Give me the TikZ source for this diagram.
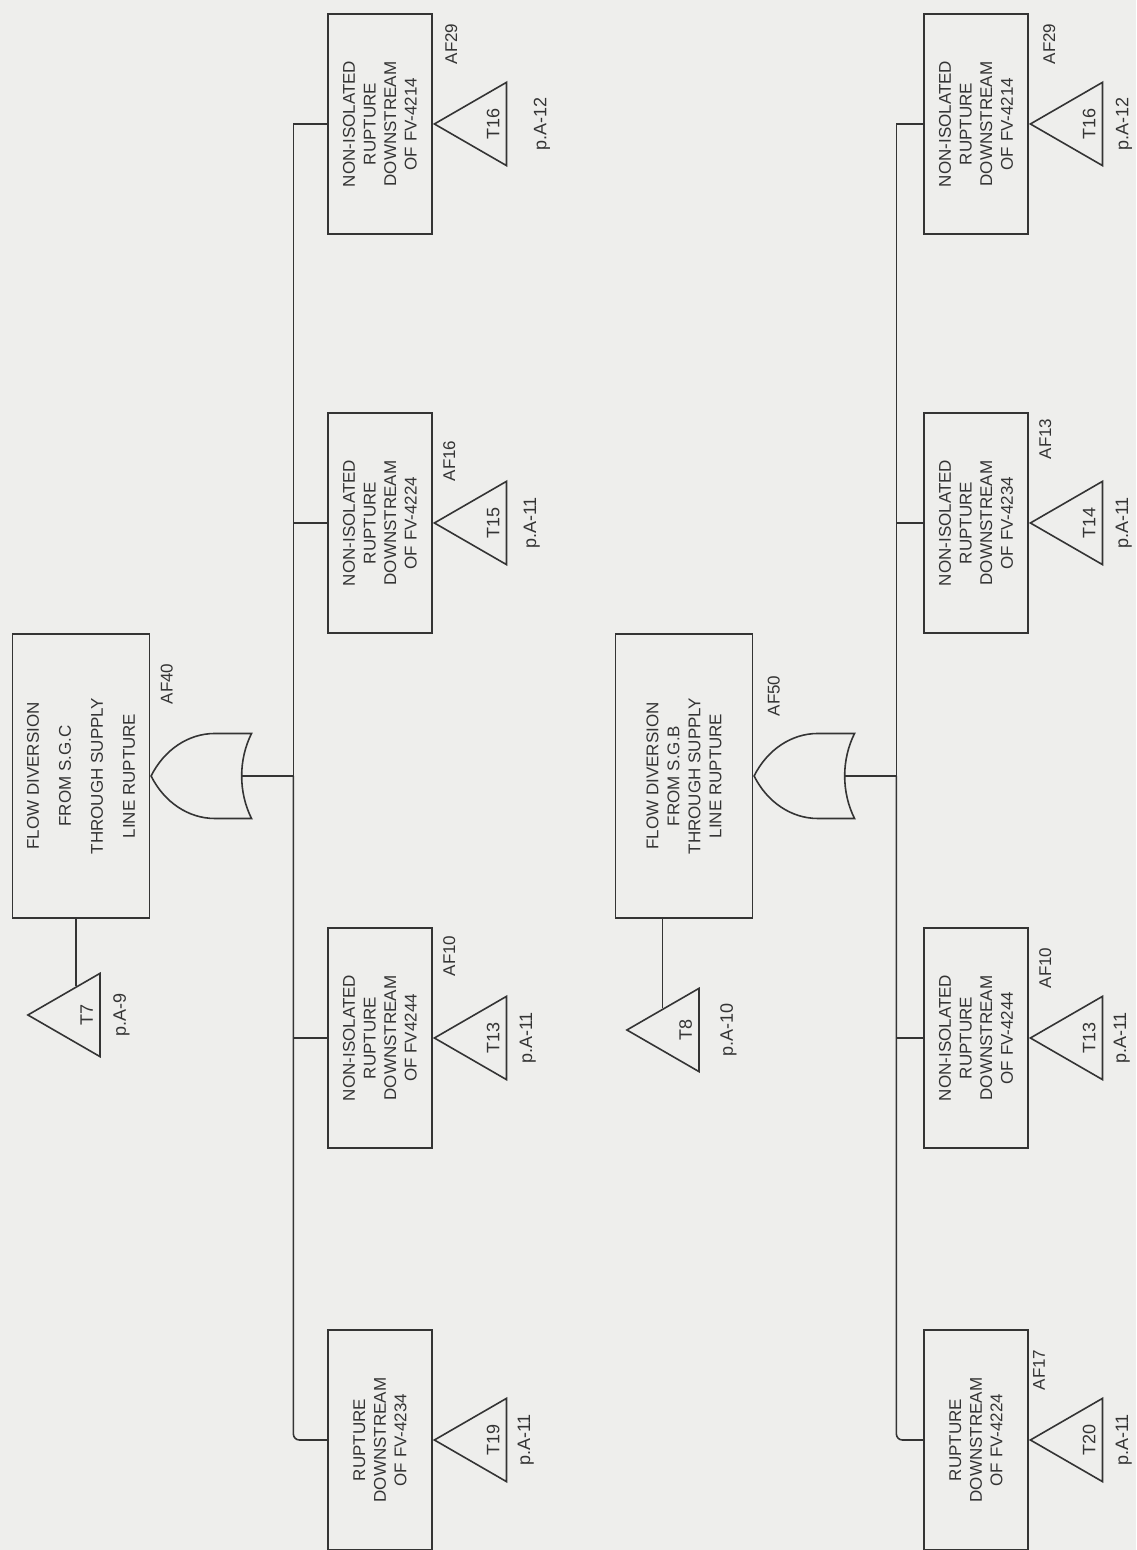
\documentclass[tikz,border=0pt]{standalone}
\usepackage{fontspec}
\setmainfont{Liberation Sans}
\usetikzlibrary{positioning,shapes.geometric,shapes.gates.logic.US}
\definecolor{treeInk}{HTML}{343434}
\definecolor{treePaper}{HTML}{EEEEEC}
\tikzset{
  event/.style={rectangle, draw=treeInk, line width=0.8pt, align=center, minimum width=110pt, minimum height=52pt, inner sep=2pt, text=treeInk, font=\fontsize{8.5}{10.3}\selectfont},
  topevent/.style={event, minimum width=142pt, minimum height=68.5pt, font=\fontsize{8.5}{10.5}\selectfont},
  orgate/.style={shape=or gate US, draw=treeInk, line width=0.8pt, logic gate inputs=nnn, rotate=90, xscale=0.865, anchor=output, minimum height=42.5pt, inner sep=0pt},
  xfer/.style={regular polygon, regular polygon sides=3, draw=treeInk, line width=0.8pt, minimum size=48pt, inner sep=0pt, text height=17pt, text depth=0pt, text=treeInk, font=\fontsize{9}{10}\selectfont},
  pglabel/.style={inner sep=1pt, text=treeInk, font=\fontsize{9}{10}\selectfont},
  evid/.style={inner sep=1pt, text=treeInk, font=\fontsize{8.5}{10}\selectfont},
  link/.style={draw=treeInk, line width=0.8pt}
}
\begin{document}
\begin{tikzpicture}[x=0.5pt, y=0.5pt, rotate=90, transform shape]
  \path[fill=treePaper, use as bounding box] (0,0) rectangle (1550,1136);

  % AF40 tree
  \node[topevent, font=\fontsize{8.5}{16}\selectfont] (top1) at (774,1055) {FLOW DIVERSION\\FROM S.G.C\\THROUGH SUPPLY\\LINE RUPTURE};
  \node[orgate] (gate1) at (top1.south) {};
  \node[evid, below left=4pt and 14pt of top1.south east] (af40) {AF40};
  \node[xfer] (t7) at (535,1060) {T7};
  \node[pglabel, below=5pt of t7] (pa9) {p.A-9};

  \node[event] (c1) at (1426,756) {NON-ISOLATED\\RUPTURE\\DOWNSTREAM\\OF FV-4214};
  \node[event] (c2) at (1027,756) {NON-ISOLATED\\RUPTURE\\DOWNSTREAM\\OF FV-4224};
  \node[event] (c3) at (512,756) {NON-ISOLATED\\RUPTURE\\DOWNSTREAM\\OF FV4244};
  \node[event] (c4) at (110,756) {RUPTURE\\DOWNSTREAM\\OF FV-4234};
  \node[evid, below left=5pt and 4pt of c1.south east] (af29a) {AF29};
  \node[evid, below left=4pt and 13pt of c2.south east] (af16) {AF16};
  \node[evid, below left=4pt and 3pt of c3.south east] (af10a) {AF10};
  \node[xfer, below=0pt of c1] (t16a) {T16};
  \node[xfer, below=0pt of c2] (t15) {T15};
  \node[xfer, below=0pt of c3] (t13a) {T13};
  \node[xfer, below=0pt of c4] (t19) {T19};
  \node[pglabel, below=12pt of t16a] (pa12a) {p.A-12};
  \node[pglabel, below=7pt of t15] (pa11a) {p.A-11};
  \node[pglabel, below=5pt of t13a] (pa11b) {p.A-11};
  \node[pglabel, below=4pt of t19] (pa11c) {p.A-11};

  \draw[link] (t7.east) -- (t7.east -| top1.west);
  \draw[link] (gate1.input 2) -- ++(0,-51) coordinate (bus1);
  \draw[link] (bus1) -| (c1.north);
  \draw[link] (bus1) -| (c2.north);
  \draw[link] (bus1) -| (c3.north);
  \draw[link, rounded corners=3pt] (bus1) -| (c4.north);

  % AF50 tree
  \node[topevent] (top2) at (774,452) {FLOW DIVERSION\\FROM S.G.B\\THROUGH SUPPLY\\LINE RUPTURE};
  \node[orgate] (gate2) at (top2.south) {};
  \node[evid, below left=6pt and 20pt of top2.south east] (af50) {AF50};
  \node[xfer] (t8) at (520,461) {T8};
  \node[pglabel, below=9pt of t8] (pa10) {p.A-10};

  \node[event] (d1) at (1426,160) {NON-ISOLATED\\RUPTURE\\DOWNSTREAM\\OF FV-4214};
  \node[event] (d2) at (1027,160) {NON-ISOLATED\\RUPTURE\\DOWNSTREAM\\OF FV-4234};
  \node[event] (d3) at (512,160) {NON-ISOLATED\\RUPTURE\\DOWNSTREAM\\OF FV-4244};
  \node[event] (d4) at (110,160) {RUPTURE\\DOWNSTREAM\\OF FV-4224};
  \node[evid, below left=6pt and 4pt of d1.south east] (af29b) {AF29};
  \node[evid, below left=4pt and 2pt of d2.south east] (af13) {AF13};
  \node[evid, below left=4pt and 9pt of d3.south east] (af10b) {AF10};
  \node[evid, below left=1pt and 9pt of d4.south east] (af17) {AF17};
  \node[xfer, below=0pt of d1] (t16b) {T16};
  \node[xfer, below=0pt of d2] (t14) {T14};
  \node[xfer, below=0pt of d3] (t13b) {T13};
  \node[xfer, below=0pt of d4] (t20) {T20};
  \node[pglabel, below=5pt of t16b] (pa12b) {p.A-12};
  \node[pglabel, below=5pt of t14] (pa11d) {p.A-11};
  \node[pglabel, below=4pt of t13b] (pa11e) {p.A-11};
  \node[pglabel, below=5pt of t20] (pa11f) {p.A-11};

  \draw[link] (t8.side 3) -- (t8.side 3 -| top2.west);
  \draw[link] (gate2.input 2) -- ++(0,-51) coordinate (bus2);
  \draw[link] (bus2) -| (d1.north);
  \draw[link] (bus2) -| (d2.north);
  \draw[link] (bus2) -| (d3.north);
  \draw[link, rounded corners=3pt] (bus2) -| (d4.north);
\end{tikzpicture}
\end{document}
